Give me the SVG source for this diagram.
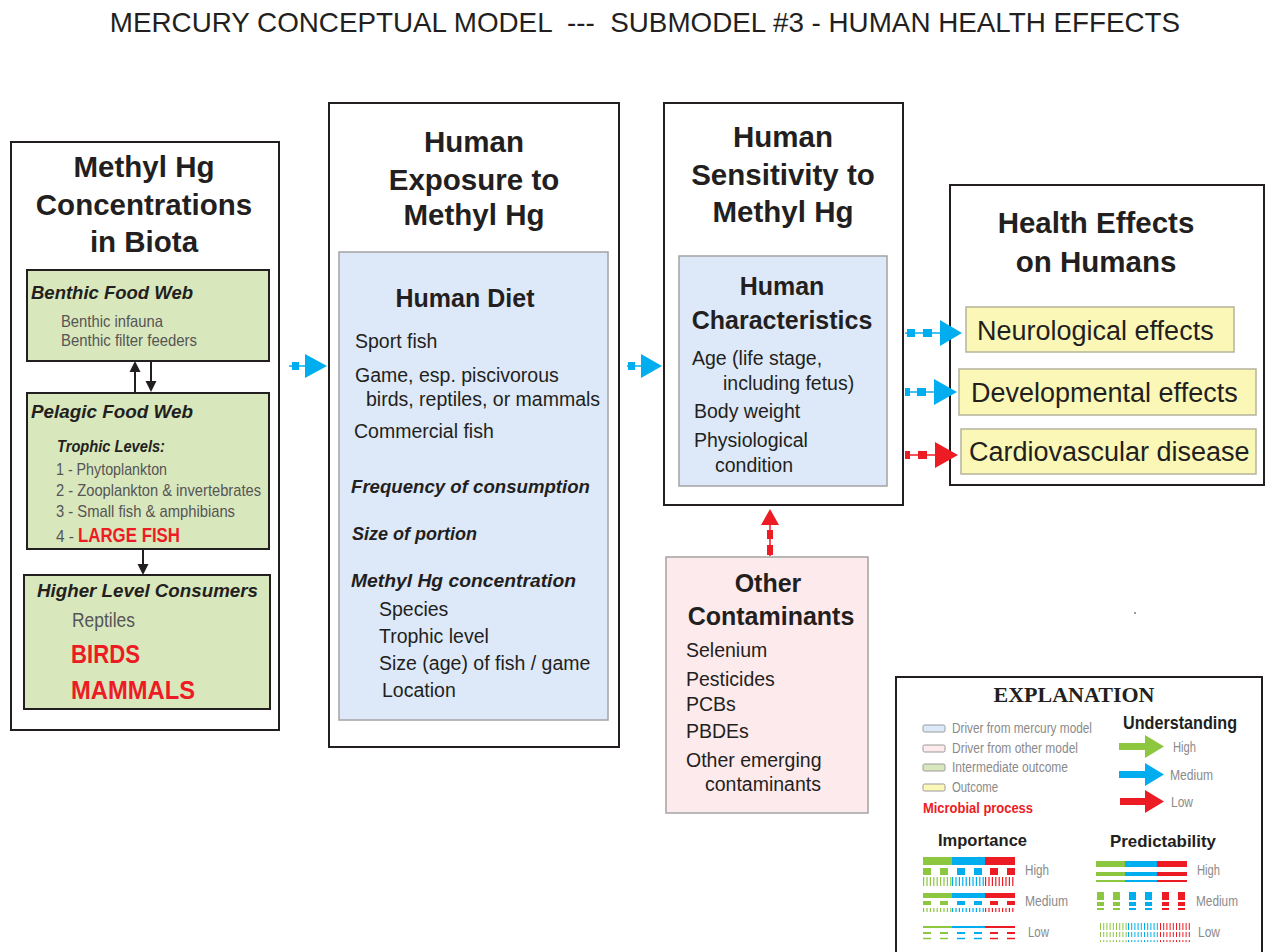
<svg xmlns="http://www.w3.org/2000/svg" width="1270" height="952" viewBox="0 0 1270 952">
<style>
text{font-family:"Liberation Sans",Arial,sans-serif;fill:#231f20}
.title{font-size:27.8px;white-space:pre}
.big{font-size:29.5px;font-weight:bold;text-anchor:middle}
.sub{font-size:25px;font-weight:bold;text-anchor:middle}
.bi{font-weight:bold;font-style:italic}
.cond{fill:#555}
.red{fill:#ed1c24;font-weight:bold}
.reg{font-size:19.5px}
.out{fill:#fff;stroke:#231f20;stroke-width:2}
.grn{fill:#d9e7bd;stroke:#231f20;stroke-width:2}
.blu{fill:#dde9f9;stroke:#a3a3a3;stroke-width:1.5}
.yel{fill:#fbf8b7;stroke:#b5b39a;stroke-width:1.5}
.pnk{fill:#fdeaed;stroke:#a3a3a3;stroke-width:1.5}
.blk{stroke:#231f20;stroke-width:2;fill:none}
.cy{fill:#00aeef}
.cyl{stroke:#00aeef;stroke-width:1.5}
.rd{fill:#ed1c24}
.rdl{stroke:#ed1c24;stroke-width:1.5}
.gr{fill:#8dc63f}
.lg{font-size:14px;fill:#8a8a8a}
.sw{stroke:#9a9a9a;stroke-width:1}
.eff{font-size:27px}
</style>

<text class="title" x="645" y="32" text-anchor="middle">MERCURY CONCEPTUAL MODEL  ---  SUBMODEL #3 - HUMAN HEALTH EFFECTS</text>

<g id="biota">
  <rect class="out" x="11" y="142" width="268" height="588"/>
  <text class="big" x="144" y="177">Methyl Hg</text>
  <text class="big" x="144" y="215">Concentrations</text>
  <text class="big" x="144" y="252">in Biota</text>
  <g id="benthic">
    <rect class="grn" x="27" y="270" width="242" height="91"/>
    <text class="bi" x="31" y="299" font-size="18.5" textLength="162" lengthAdjust="spacingAndGlyphs">Benthic Food Web</text>
    <text class="cond" x="61" y="327" font-size="16.5" textLength="102" lengthAdjust="spacingAndGlyphs">Benthic infauna</text>
    <text class="cond" x="61" y="346" font-size="16.5" textLength="136" lengthAdjust="spacingAndGlyphs">Benthic filter feeders</text>
  </g>
  <g id="pelagic">
    <rect class="grn" x="27" y="393" width="242" height="156"/>
    <text class="bi" x="31" y="418" font-size="18.5" textLength="162" lengthAdjust="spacingAndGlyphs">Pelagic Food Web</text>
    <text class="bi" x="57" y="452" font-size="17" textLength="108" lengthAdjust="spacingAndGlyphs">Trophic Levels:</text>
    <text class="cond" x="56" y="475" font-size="17" textLength="111" lengthAdjust="spacingAndGlyphs">1 - Phytoplankton</text>
    <text class="cond" x="56" y="496" font-size="17" textLength="205" lengthAdjust="spacingAndGlyphs">2 - Zooplankton &amp; invertebrates</text>
    <text class="cond" x="56" y="517" font-size="17" textLength="179" lengthAdjust="spacingAndGlyphs">3 - Small fish &amp; amphibians</text>
    <text class="cond" x="56" y="542" font-size="17" textLength="18" lengthAdjust="spacingAndGlyphs">4 -</text>
    <text class="red" x="78" y="542" font-size="20" textLength="102" lengthAdjust="spacingAndGlyphs">LARGE FISH</text>
  </g>
  <g id="higher">
    <rect class="grn" x="24" y="575" width="246" height="134"/>
    <text class="bi" x="37" y="597" font-size="18.5" textLength="221" lengthAdjust="spacingAndGlyphs">Higher Level Consumers</text>
    <text class="cond" x="72" y="627" font-size="20.5" textLength="63" lengthAdjust="spacingAndGlyphs">Reptiles</text>
    <text class="red" x="71" y="663" font-size="26" textLength="69" lengthAdjust="spacingAndGlyphs">BIRDS</text>
    <text class="red" x="71" y="699" font-size="26" textLength="124" lengthAdjust="spacingAndGlyphs">MAMMALS</text>
  </g>
</g>

<g id="exposure">
  <rect class="out" x="329" y="103" width="290" height="644"/>
  <text class="big" x="474" y="152">Human</text>
  <text class="big" x="474" y="190">Exposure to</text>
  <text class="big" x="474" y="225">Methyl Hg</text>
  <rect class="blu" x="339" y="252" width="269" height="468"/>
  <text class="sub" x="465" y="307">Human Diet</text>
  <text class="reg" x="355" y="348">Sport fish</text>
  <text class="reg" x="355" y="382">Game, esp. piscivorous</text>
  <text class="reg" x="366" y="406">birds, reptiles, or mammals</text>
  <text class="reg" x="354" y="438">Commercial fish</text>
  <text class="bi" x="351" y="493" font-size="18" textLength="239" lengthAdjust="spacingAndGlyphs">Frequency of consumption</text>
  <text class="bi" x="352" y="540" font-size="18">Size of portion</text>
  <text class="bi" x="351" y="587" font-size="18" textLength="225" lengthAdjust="spacingAndGlyphs">Methyl Hg concentration</text>
  <text class="reg" x="379" y="616">Species</text>
  <text class="reg" x="379" y="643">Trophic level</text>
  <text class="reg" x="379" y="670">Size (age) of fish / game</text>
  <text class="reg" x="382" y="697">Location</text>
</g>

<g id="sensitivity">
  <rect class="out" x="664" y="103" width="239" height="402"/>
  <text class="big" x="783" y="147">Human</text>
  <text class="big" x="783" y="185">Sensitivity to</text>
  <text class="big" x="783" y="222">Methyl Hg</text>
  <rect class="blu" x="679" y="256" width="208" height="230"/>
  <text class="sub" x="782" y="295">Human</text>
  <text class="sub" x="782" y="329">Characteristics</text>
  <text class="reg" x="692" y="365">Age (life stage,</text>
  <text class="reg" x="723" y="390">including fetus)</text>
  <text class="reg" x="694" y="418">Body weight</text>
  <text class="reg" x="694" y="447">Physiological</text>
  <text class="reg" x="715" y="472">condition</text>
</g>

<g id="health">
  <rect class="out" x="950" y="185" width="314" height="300"/>
  <text class="big" x="1096" y="233" font-size="30.5">Health Effects</text>
  <text class="big" x="1096" y="272" font-size="30.5">on Humans</text>
  <g id="neuro">
    <rect class="yel" x="966" y="307" width="268" height="45"/>
    <text class="eff" x="977" y="340">Neurological effects</text>
  </g>
  <g id="develop">
    <rect class="yel" x="959" y="369" width="297" height="46"/>
    <text class="eff" x="971" y="402">Developmental effects</text>
  </g>
  <g id="cardio">
    <rect class="yel" x="961" y="429" width="295" height="45"/>
    <text class="eff" x="969" y="461">Cardiovascular disease</text>
  </g>
</g>

<g id="contaminants">
  <rect class="pnk" x="666" y="557" width="202" height="256"/>
  <text class="sub" x="768" y="592">Other</text>
  <text class="sub" x="771" y="625">Contaminants</text>
  <text class="reg" x="686" y="657" font-size="20">Selenium</text>
  <text class="reg" x="686" y="686" font-size="20">Pesticides</text>
  <text class="reg" x="686" y="711" font-size="20">PCBs</text>
  <text class="reg" x="686" y="738" font-size="20">PBDEs</text>
  <text class="reg" x="686" y="767" font-size="20">Other emerging</text>
  <text class="reg" x="705" y="791" font-size="20">contaminants</text>
</g>

<g id="connectors">
  <line class="blk" x1="135" y1="392" x2="135" y2="370"/>
  <polygon points="129.5,372 140.5,372 135,361" fill="#231f20"/>
  <line class="blk" x1="151" y1="361" x2="151" y2="383"/>
  <polygon points="145.5,381 156.5,381 151,392" fill="#231f20"/>
  <line class="blk" x1="143" y1="549" x2="143" y2="566"/>
  <polygon points="137.5,564 148.5,564 143,575" fill="#231f20"/>

  <line class="cyl" x1="289" y1="366" x2="306" y2="366"/>
  <rect class="cy" x="292" y="362" width="7" height="8"/>
  <polygon class="cy" points="305,354 327,366 305,378"/>

  <line class="cyl" x1="627" y1="366" x2="642" y2="366"/>
  <rect class="cy" x="628" y="362" width="7" height="8"/>
  <polygon class="cy" points="641,354 662,366 641,378"/>

  <line class="cyl" x1="905" y1="333" x2="942" y2="333"/>
  <rect class="cy" x="907" y="329" width="8" height="8"/>
  <rect class="cy" x="923" y="329" width="9" height="8"/>
  <polygon class="cy" points="940,320 962,333 940,346"/>

  <line class="cyl" x1="905" y1="392" x2="936" y2="392"/>
  <rect class="cy" x="905" y="388" width="5" height="8"/>
  <rect class="cy" x="917" y="388" width="9" height="8"/>
  <polygon class="cy" points="934,379 957,392 934,405"/>

  <line class="rdl" x1="905" y1="455" x2="937" y2="455"/>
  <rect class="rd" x="905" y="451" width="5" height="8"/>
  <rect class="rd" x="918" y="451" width="9" height="8"/>
  <polygon class="rd" points="935,442 958,455 935,468"/>

  <line class="rdl" x1="770" y1="556" x2="770" y2="522"/>
  <rect class="rd" x="767" y="545" width="6" height="10"/>
  <rect class="rd" x="767" y="530" width="6" height="9"/>
  <polygon class="rd" points="761,525 779,525 770,509"/>
</g>

<circle cx="1135" cy="613" r="1" fill="#777"/>

<g id="explanation">
  <rect x="896" y="677" width="366" height="290" fill="#fff" stroke="#231f20" stroke-width="2"/>
  <text x="1074" y="702" font-size="22" font-weight="bold" text-anchor="middle" style="font-family:'Liberation Serif','Times New Roman',serif">EXPLANATION</text>
  <rect class="sw" x="923" y="725" width="22" height="7" rx="1.5" fill="#dde9f9"/>
  <text class="lg" x="952" y="733" textLength="140" lengthAdjust="spacingAndGlyphs">Driver from mercury model</text>
  <rect class="sw" x="923" y="745" width="22" height="7" rx="1.5" fill="#fdeaed"/>
  <text class="lg" x="952" y="753" textLength="126" lengthAdjust="spacingAndGlyphs">Driver from other model</text>
  <rect class="sw" x="923" y="764" width="22" height="7" rx="1.5" fill="#d9e7bd"/>
  <text class="lg" x="952" y="772" textLength="116" lengthAdjust="spacingAndGlyphs">Intermediate outcome</text>
  <rect class="sw" x="923" y="784" width="22" height="7" rx="1.5" fill="#fbf8b7"/>
  <text class="lg" x="952" y="792" textLength="46" lengthAdjust="spacingAndGlyphs">Outcome</text>
  <text class="red" x="923" y="813" font-size="14.5" textLength="110" lengthAdjust="spacingAndGlyphs">Microbial process</text>

  <text x="1123" y="729" font-size="19" font-weight="bold" textLength="114" lengthAdjust="spacingAndGlyphs">Understanding</text>
  <rect class="gr" x="1119" y="743" width="28" height="7"/>
  <polygon class="gr" points="1145,735 1164,746.5 1145,758"/>
  <text class="lg" x="1173" y="752" textLength="23" lengthAdjust="spacingAndGlyphs">High</text>
  <rect class="cy" x="1119" y="771" width="28" height="7"/>
  <polygon class="cy" points="1145,763 1164,774.5 1145,786"/>
  <text class="lg" x="1170" y="780" textLength="43" lengthAdjust="spacingAndGlyphs">Medium</text>
  <rect class="rd" x="1120" y="798" width="27" height="7"/>
  <polygon class="rd" points="1145,790 1164,801.5 1145,813"/>
  <text class="lg" x="1171" y="807" textLength="22" lengthAdjust="spacingAndGlyphs">Low</text>

  <text x="938" y="846" font-size="17" font-weight="bold" textLength="89" lengthAdjust="spacingAndGlyphs">Importance</text>
  <text x="1110" y="847" font-size="17" font-weight="bold" textLength="106" lengthAdjust="spacingAndGlyphs">Predictability</text>

  <g id="importance">
    <rect class="gr" x="923" y="857" width="29" height="8"/>
    <rect class="cy" x="952" y="857" width="33" height="8"/>
    <rect class="rd" x="985" y="857" width="30" height="8"/>
    <line x1="923" y1="871.5" x2="952" y2="871.5" stroke="#8dc63f" stroke-width="7" stroke-dasharray="8 9"/>
    <line x1="957" y1="871.5" x2="985" y2="871.5" stroke="#00aeef" stroke-width="7" stroke-dasharray="8 9"/>
    <line x1="990" y1="871.5" x2="1015" y2="871.5" stroke="#ed1c24" stroke-width="7" stroke-dasharray="8 9"/>
    <line x1="923" y1="881.5" x2="952" y2="881.5" stroke="#8dc63f" stroke-width="9" stroke-dasharray="1.2 2.2"/>
    <line x1="952" y1="881.5" x2="985" y2="881.5" stroke="#00aeef" stroke-width="9" stroke-dasharray="1.2 2.2"/>
    <line x1="985" y1="881.5" x2="1015" y2="881.5" stroke="#ed1c24" stroke-width="9" stroke-dasharray="1.2 2.2"/>
    <text class="lg" x="1025" y="875" textLength="24" lengthAdjust="spacingAndGlyphs">High</text>

    <rect class="gr" x="923" y="893" width="29" height="5"/>
    <rect class="cy" x="952" y="893" width="33" height="5"/>
    <rect class="rd" x="985" y="893" width="30" height="5"/>
    <line x1="923" y1="903" x2="952" y2="903" stroke="#8dc63f" stroke-width="4" stroke-dasharray="8 9"/>
    <line x1="957" y1="903" x2="985" y2="903" stroke="#00aeef" stroke-width="4" stroke-dasharray="8 9"/>
    <line x1="990" y1="903" x2="1015" y2="903" stroke="#ed1c24" stroke-width="4" stroke-dasharray="8 9"/>
    <line x1="923" y1="910" x2="952" y2="910" stroke="#8dc63f" stroke-width="4" stroke-dasharray="1.2 2.2"/>
    <line x1="952" y1="910" x2="985" y2="910" stroke="#00aeef" stroke-width="4" stroke-dasharray="1.2 2.2"/>
    <line x1="985" y1="910" x2="1015" y2="910" stroke="#ed1c24" stroke-width="4" stroke-dasharray="1.2 2.2"/>
    <text class="lg" x="1025" y="906" textLength="43" lengthAdjust="spacingAndGlyphs">Medium</text>

    <line x1="923" y1="927" x2="952" y2="927" stroke="#8dc63f" stroke-width="2"/>
    <line x1="952" y1="927" x2="985" y2="927" stroke="#00aeef" stroke-width="2"/>
    <line x1="985" y1="927" x2="1015" y2="927" stroke="#ed1c24" stroke-width="2"/>
    <line x1="923" y1="933" x2="952" y2="933" stroke="#8dc63f" stroke-width="2" stroke-dasharray="8 9"/>
    <line x1="957" y1="933" x2="985" y2="933" stroke="#00aeef" stroke-width="2" stroke-dasharray="8 9"/>
    <line x1="990" y1="933" x2="1015" y2="933" stroke="#ed1c24" stroke-width="2" stroke-dasharray="8 9"/>
    <line x1="923" y1="938.5" x2="952" y2="938.5" stroke="#8dc63f" stroke-width="1.5" stroke-dasharray="8 9"/>
    <line x1="957" y1="938.5" x2="985" y2="938.5" stroke="#00aeef" stroke-width="1.5" stroke-dasharray="8 9"/>
    <line x1="990" y1="938.5" x2="1015" y2="938.5" stroke="#ed1c24" stroke-width="1.5" stroke-dasharray="8 9"/>
    <text class="lg" x="1028" y="937" textLength="21" lengthAdjust="spacingAndGlyphs">Low</text>
  </g>

  <g id="predictability">
    <rect class="gr" x="1096" y="861" width="29" height="6"/>
    <rect class="cy" x="1125" y="861" width="32" height="6"/>
    <rect class="rd" x="1157" y="861" width="30" height="6"/>
    <rect class="gr" x="1096" y="872" width="29" height="4"/>
    <rect class="cy" x="1125" y="872" width="32" height="4"/>
    <rect class="rd" x="1157" y="872" width="30" height="4"/>
    <rect class="gr" x="1096" y="880" width="29" height="2"/>
    <rect class="cy" x="1125" y="880" width="32" height="2"/>
    <rect class="rd" x="1157" y="880" width="30" height="2"/>
    <text class="lg" x="1197" y="875" textLength="23" lengthAdjust="spacingAndGlyphs">High</text>

    <g fill="#8dc63f">
      <rect x="1097" y="892" width="7" height="8"/><rect x="1097" y="902" width="7" height="4"/><rect x="1097" y="908" width="7" height="2"/>
      <rect x="1113" y="892" width="7" height="8"/><rect x="1113" y="902" width="7" height="4"/><rect x="1113" y="908" width="7" height="2"/>
    </g>
    <g fill="#00aeef">
      <rect x="1129" y="892" width="7" height="8"/><rect x="1129" y="902" width="7" height="4"/><rect x="1129" y="908" width="7" height="2"/>
      <rect x="1145" y="892" width="7" height="8"/><rect x="1145" y="902" width="7" height="4"/><rect x="1145" y="908" width="7" height="2"/>
    </g>
    <g fill="#ed1c24">
      <rect x="1162" y="892" width="7" height="8"/><rect x="1162" y="902" width="7" height="4"/><rect x="1162" y="908" width="7" height="2"/>
      <rect x="1178" y="892" width="7" height="8"/><rect x="1178" y="902" width="7" height="4"/><rect x="1178" y="908" width="7" height="2"/>
    </g>
    <text class="lg" x="1196" y="906" textLength="42" lengthAdjust="spacingAndGlyphs">Medium</text>

    <line x1="1100" y1="926.5" x2="1128" y2="926.5" stroke="#8dc63f" stroke-width="7" stroke-dasharray="1 2.2"/>
    <line x1="1128" y1="926.5" x2="1160" y2="926.5" stroke="#00aeef" stroke-width="7" stroke-dasharray="1 2.2"/>
    <line x1="1160" y1="926.5" x2="1192" y2="926.5" stroke="#ed1c24" stroke-width="7" stroke-dasharray="1 2.2"/>
    <line x1="1100" y1="934.5" x2="1128" y2="934.5" stroke="#8dc63f" stroke-width="5" stroke-dasharray="1 2.2"/>
    <line x1="1128" y1="934.5" x2="1160" y2="934.5" stroke="#00aeef" stroke-width="5" stroke-dasharray="1 2.2"/>
    <line x1="1160" y1="934.5" x2="1192" y2="934.5" stroke="#ed1c24" stroke-width="5" stroke-dasharray="1 2.2"/>
    <line x1="1100" y1="941" x2="1128" y2="941" stroke="#8dc63f" stroke-width="2" stroke-dasharray="1 2.2"/>
    <line x1="1128" y1="941" x2="1160" y2="941" stroke="#00aeef" stroke-width="2" stroke-dasharray="1 2.2"/>
    <line x1="1160" y1="941" x2="1192" y2="941" stroke="#ed1c24" stroke-width="2" stroke-dasharray="1 2.2"/>
    <text class="lg" x="1198" y="937" textLength="22" lengthAdjust="spacingAndGlyphs">Low</text>
  </g>
</g>
</svg>
